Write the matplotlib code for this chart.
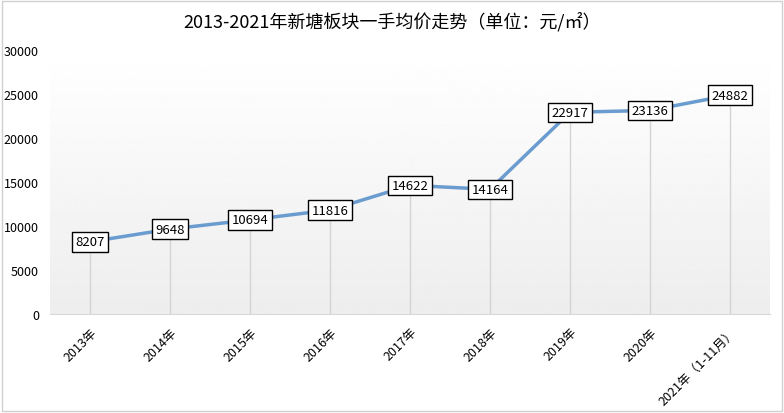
import matplotlib.pyplot as plt
import numpy as np
from matplotlib.patches import Rectangle

plt.rcParams['font.family'] = ['Noto Sans CJK SC', 'DejaVu Sans']

# 新塘板块一手均价 (元/㎡)
years = ["2013年", "2014年", "2015年", "2016年", "2017年", "2018年", "2019年", "2020年", "2021年（1-11月）"]
prices = [8207, 9648, 10694, 11816, 14622, 14164, 22917, 23136, 24882]
yticks = [0, 5000, 10000, 15000, 20000, 25000, 30000]

fig = plt.figure(figsize=(7.84, 4.14), dpi=100)
ax = fig.add_axes([50/784, 99/414, 720/784, 264/414])

x = np.arange(len(years))
ax.set_xlim(-0.5, len(years) - 0.5)
ax.set_ylim(0, 30000)

# light gradient background of the plot area
grad = np.linspace(1.0, 0.93, 256).reshape(-1, 1)
ax.imshow(grad, cmap="gray", vmin=0, vmax=1, aspect="auto",
          extent=(-0.5, len(years) - 0.5, 0, 30000), origin="upper", zorder=0)

# drop lines
ax.vlines(x, 0, prices, color="#d4d4d4", lw=1, zorder=1)

ax.plot(x, prices, color="#6b9ccf", lw=2.5, zorder=2)

for xi, p in zip(x, prices):
    ax.text(xi, p, str(p), ha="center", va="center", fontsize=9.5, zorder=3,
            bbox=dict(boxstyle="square,pad=0.25", fc="white", ec="black", lw=1))

ax.set_xticks(x)
ax.set_xticklabels(years, rotation=45, ha="right", va="top", rotation_mode="anchor", fontsize=9)
ax.set_yticks(yticks)
ax.set_yticklabels([str(v) for v in yticks], fontsize=9)
ax.tick_params(length=0, pad=8)
for s in ["top", "right", "left"]:
    ax.spines[s].set_visible(False)
ax.spines["bottom"].set_color("#d9d9d9")

fig.text(0.5, 1 - 22/414, "2013-2021年新塘板块一手均价走势（单位：元/㎡）",
         ha="center", va="center", fontsize=13)

fig.patches.append(Rectangle((0.003, 0.004), 0.994, 0.992, transform=fig.transFigure,
                             fill=False, ec="#d0d0d0", lw=1))

plt.savefig("out.png", dpi=100)
